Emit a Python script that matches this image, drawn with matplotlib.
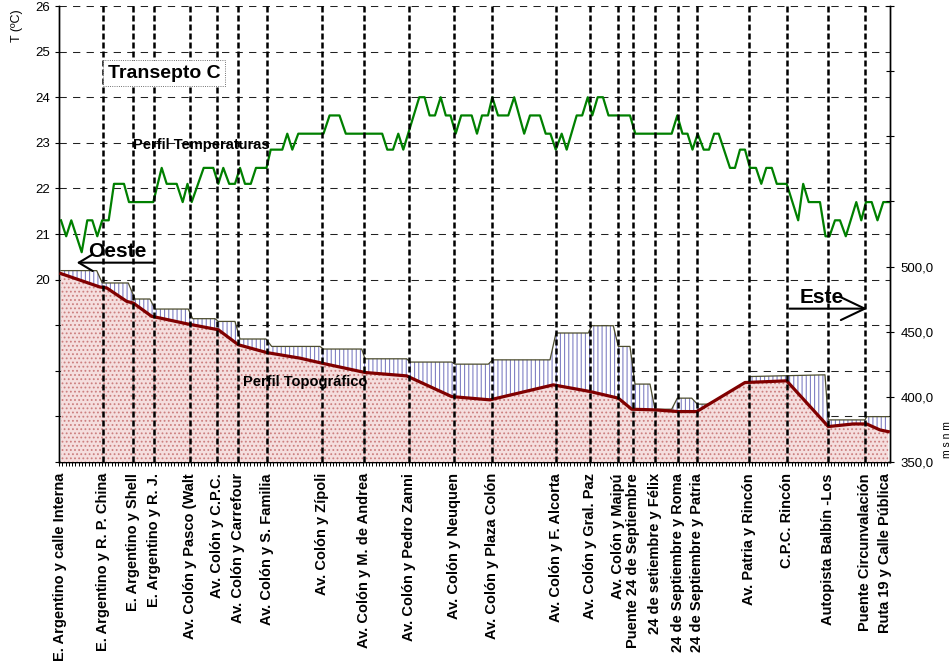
import numpy as np
import matplotlib
matplotlib.use("Agg")
import matplotlib.pyplot as plt
from matplotlib.ticker import MultipleLocator

plt.rcParams["font.family"] = ["Liberation Sans", "DejaVu Sans"]
plt.rcParams["hatch.linewidth"] = 0.8

# Perfil de temperaturas (distancia en m, temperatura en ºC)
temp_dist_m = [20, 72, 123, 227, 283, 333, 383, 432, 497, 550, 650, 700, 943, 1027, 1077,
               1177, 1237, 1285, 1327, 1447, 1543, 1593, 1643, 1702, 1760, 1810, 1860, 1918,
               1970, 2075, 2117, 2233, 2283, 2333, 2393, 2645, 2706, 2805, 2868, 3232, 3283,
               3340, 3393, 3443, 3603, 3656, 3706, 3760, 3817, 3868, 3915, 3967, 4022, 4127,
               4180, 4230, 4290, 4333, 4390, 4493, 4552, 4652, 4710, 4810, 4867, 4914, 4968,
               5027, 5077, 5177, 5232, 5288, 5333, 5387, 5440, 5495, 5710, 5763, 6127, 6183,
               6235, 6285, 6335, 6387, 6447, 6500, 6552, 6597, 6710, 6760, 6810, 6860, 6910,
               6970, 7023, 7073, 7128, 7178, 7277, 7392, 7442, 7497, 7610, 7665, 7705, 7760,
               7810, 7868, 7973, 8023, 8070, 8127, 8185, 8243, 8310]
temp_c = [21.3, 20.95, 21.3, 20.6, 21.3, 21.3, 20.95, 21.3, 21.3, 22.1, 22.1, 21.7, 21.7, 22.45, 22.1,
          22.1, 21.7, 22.1, 21.7, 22.45, 22.45, 22.1, 22.45, 22.1, 22.1, 22.45, 22.1, 22.1,
          22.45, 22.45, 22.85, 22.85, 23.2, 22.85, 23.2, 23.2, 23.6, 23.6, 23.2, 23.2, 22.85,
          22.85, 23.2, 22.85, 24.0, 24.0, 23.6, 23.6, 24.0, 23.6, 23.6, 23.2, 23.6, 23.6,
          23.2, 23.6, 23.6, 24.0, 23.6, 23.6, 24.0, 23.2, 23.6, 23.6, 23.2, 23.2, 22.85,
          23.2, 22.85, 23.6, 23.6, 24.0, 23.6, 24.0, 24.0, 23.6, 23.6, 23.2, 23.2, 23.6,
          23.2, 23.2, 22.85, 23.2, 22.85, 22.85, 23.2, 23.2, 22.45, 22.45, 22.85, 22.85, 22.45,
          22.45, 22.1, 22.45, 22.45, 22.1, 22.1, 21.3, 22.1, 21.7, 21.7, 20.95, 20.95, 21.3,
          21.3, 20.95, 21.7, 21.3, 21.7, 21.7, 21.3, 21.7, 21.7]

# Perfil topográfico (m s n m)
topo_dist_m = [20, 410, 477, 677, 743, 927, 1010, 1277, 1593, 1793, 2077, 2410, 2627, 3060,
               3477, 3927, 4310, 4943, 5310, 5593, 5727, 5960, 6193, 6377, 6860, 7277, 7693,
               7943, 8077, 8210, 8293]
topo_m = [494.6, 484.3, 483.6, 473.3, 472.0, 461.8, 460.5, 456.1, 451.5, 440.0, 434.0, 429.7,
          425.9, 418.7, 416.1, 400.2, 397.7, 409.2, 404.1, 399.0, 390.5, 390.0, 388.7, 388.7,
          411.0, 412.3, 377.2, 379.2, 379.2, 374.6, 373.3]

# Altura de la edificación (contorno escalonado)
edif_dist_m = [20, 377, 433, 693, 760, 910, 960, 1293, 1337, 1560, 1593, 1760, 1810, 2070,
               2127, 2610, 2643, 3027, 3060, 3477, 3510, 3927, 3960, 4293, 4337, 4910, 4970,
               5293, 5327, 5543, 5593, 5710, 5760, 5910, 5960, 6127, 6183, 6327, 6383, 6493,
               6560, 6880, 6910, 7660, 7693, 8060, 8077, 8293]
edif_m = [496.9, 496.9, 487.4, 487.4, 475.1, 475.1, 467.4, 467.4, 460.0, 460.0, 457.9, 457.9,
          444.4, 444.4, 438.7, 438.7, 436.7, 436.7, 429.2, 429.2, 426.7, 426.7, 425.1, 425.1,
          428.4, 428.4, 449.0, 449.0, 454.6, 454.6, 438.7, 438.7, 409.8, 409.8, 390.5, 390.5,
          399.0, 399.0, 394.4, 394.4, 392.0, 392.0, 415.6, 416.9, 382.3, 382.3, 384.8, 384.8]

# Intersecciones del transepto
cruces_m = [15, 443, 743, 950, 1310, 1583, 1793, 2083, 2633, 3053, 3500, 3950, 4327, 4970,
            5310, 5590, 5743, 5960, 6193, 6377, 6903, 7277, 7693, 8060, 8260]
cruces = ["E. Argentino y calle Interna", "E. Argentino y R. P. China", "E. Argentino y Shell",
          "E. Argentino y R. J.", "Av. Colón y Pasco (Walt", "Av. Colón y C.P.C.",
          "Av. Colón y Carrefour", "Av. Colón y S. Familia", "Av. Colón y Zípoli",
          "Av. Colón y M. de Andrea", "Av. Colón y Pedro Zanni", "Av. Colón y Neuquen",
          "Av. Colón y Plaza Colón", "Av. Colón y F. Alcorta", "Av. Colón y Gral. Paz",
          "Av. Colón y Maipú", "Puente 24 de Septiembre", "24 de setiembre y Félix",
          "24 de Septiembre y Roma", "24 de Septiembre y Patria", "Av. Patria y Rincón",
          "C.P.C. Rincón", "Autopista Balbín -Los", "Puente Circunvalación",
          "Ruta 19 y Calle Pública"]

fig = plt.figure(figsize=(9.53, 6.68), dpi=100)
ax = fig.add_axes([0.0619, 0.3084, 0.8725, 0.6826])
ax2 = ax.twinx()

# temperatura (eje izquierdo)
ax.plot(temp_dist_m, temp_c, color="#008000", lw=1.6, zorder=3)
ax.set_ylim(16, 26)
ax.set_yticks(range(16, 27))
ax.set_yticklabels([str(t) if t >= 20 else "" for t in range(16, 27)])
ax.grid(axis="y", color="#222222", lw=0.75, linestyle=(0, (7, 6)))
ax.set_axisbelow(True)
ax.tick_params(axis="y", length=3.2, width=0.8, pad=3, labelsize=9.5)

# topografia (eje derecho)
ax2.set_ylim(350, 700)
ax2.set_yticks(range(350, 701, 50))
ax2.set_yticklabels([f"{v},0" if v <= 500 else "" for v in range(350, 701, 50)])
ax2.tick_params(axis="y", direction="inout", length=6, width=0.8, pad=4, labelsize=9.5)

poly_x = np.concatenate([edif_dist_m, topo_dist_m[::-1]])
poly_y = np.concatenate([edif_m, topo_m[::-1]])
ax2.fill(poly_x, poly_y, facecolor="white", edgecolor="#8080c4", hatch="||||", lw=0, zorder=2)
ax2.plot(edif_dist_m, edif_m, color="#4d4d2e", lw=0.9, zorder=2.5)
ax2.fill_between(topo_dist_m, topo_m, 350, facecolor="#f5dede", edgecolor="#cc7f7f",
                 hatch="....", lw=0, zorder=3)
ax2.plot(topo_dist_m, topo_m, color="#800000", lw=2.3, zorder=4)

for x in cruces_m[1:-1]:
    ax2.axvline(x, color="black", lw=1.8, dashes=(2.4, 1.2), zorder=5)

ax.set_xlim(0, 8315)
ax.set_xticks(cruces_m)
ax.set_xticklabels(cruces, rotation=90, fontsize=10.5, fontweight="bold")
ax.tick_params(axis="x", which="major", length=0, pad=8)
ax.xaxis.set_minor_locator(MultipleLocator(33))
ax.tick_params(axis="x", which="minor", length=3, width=0.7)

for a in (ax, ax2):
    a.spines["top"].set_visible(False)
    for s in ("left", "right", "bottom"):
        a.spines[s].set_linewidth(1.0)

# textos
ax2.text(490, 24.53, "Transepto C", transform=ax.transData, fontsize=14, fontweight="bold",
         va="center", ha="left", zorder=6,
         bbox=dict(boxstyle="square,pad=0.25", facecolor="white", edgecolor="#444444",
                   lw=0.6, linestyle=":"))
ax2.text(740, 22.95, "Perfil Temperaturas", transform=ax.transData, fontsize=10.5,
         fontweight="bold", va="center", ha="left", zorder=6)
ax2.text(1840, 411.5, "Perfil Topográfico", fontsize=10.5, fontweight="bold",
         va="center", ha="left", zorder=6)
ax2.text(580, 20.62, "Oeste", transform=ax.transData, fontsize=15, fontweight="bold",
         va="center", ha="center", zorder=6)
ax2.text(7630, 476, "Este", fontsize=15, fontweight="bold", va="center", ha="center", zorder=6)
ax2.annotate("", xy=(150, 503), xytext=(980, 503),
             arrowprops=dict(arrowstyle="->,head_length=0.5,head_width=0.3",
                             color="black", lw=1.5, mutation_scale=20), zorder=6)
ax2.annotate("", xy=(8110, 467.7), xytext=(7277, 467.7),
             arrowprops=dict(arrowstyle="->,head_length=0.86,head_width=0.41",
                             color="black", lw=1.5, mutation_scale=20), zorder=6)

fig.text(17 / 953, 1 - 26 / 668, "T (ºC)", rotation=90, fontsize=9, ha="center", va="center")
fig.text(947 / 953, 1 - 440 / 668, "m s n m", rotation=90, fontsize=7.5, ha="center", va="center")

fig.savefig("out.png", dpi=100)
